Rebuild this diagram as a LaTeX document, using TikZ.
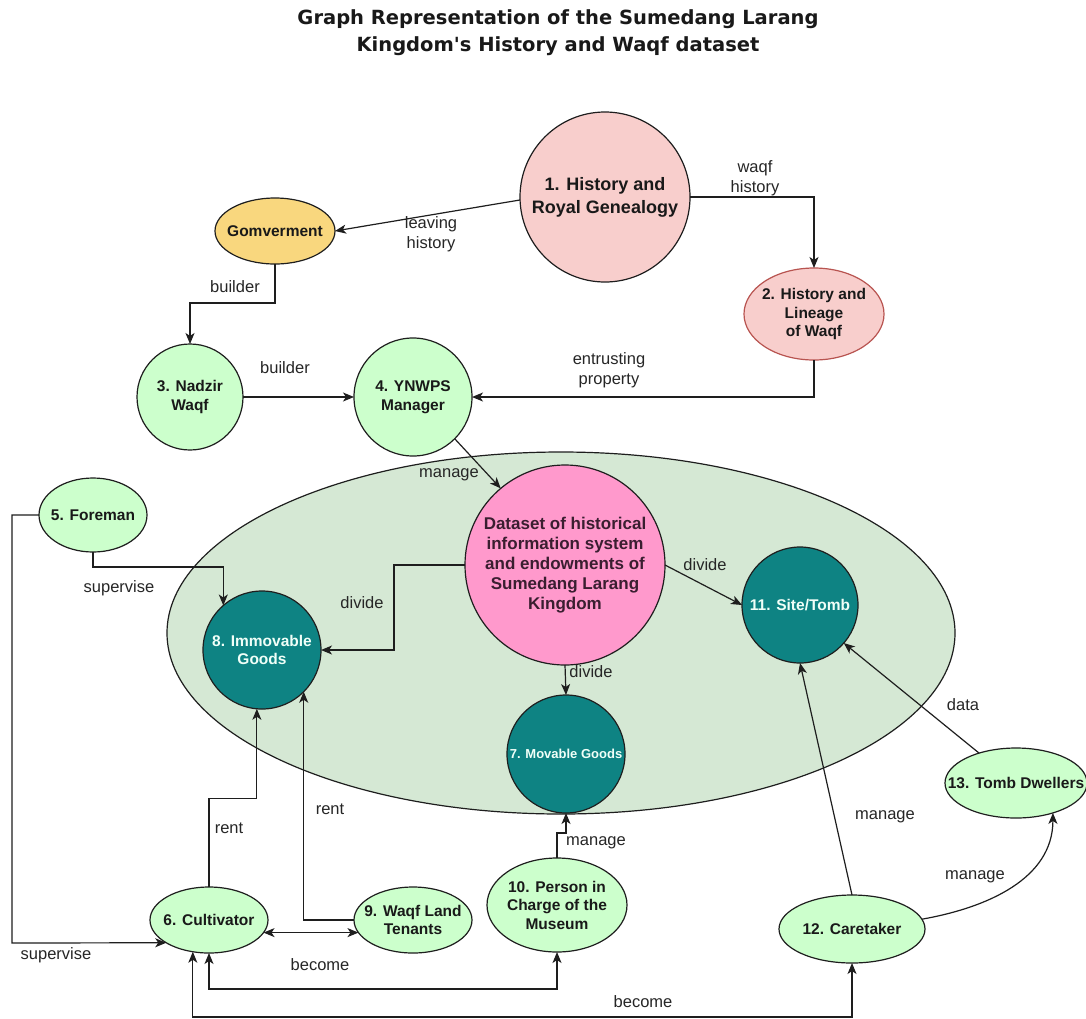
\documentclass[tikz,border=0pt]{standalone}
\usepackage{fontspec}
\setmainfont{Liberation Sans}
\newfontfamily\titlefont{DejaVu Sans}
\usetikzlibrary{shapes.geometric,arrows.meta,calc}

\definecolor{pinkfill}{HTML}{F8CECC}
\definecolor{pinkedge}{HTML}{B85450}
\definecolor{goldfill}{HTML}{F9D77E}
\definecolor{greenfill}{HTML}{CCFFCC}
\definecolor{zonefill}{HTML}{D5E8D4}
\definecolor{dsfill}{HTML}{FF99CC}
\definecolor{dstext}{HTML}{3A1E30}
\definecolor{tealfill}{HTML}{0E8383}
\definecolor{tealtext}{HTML}{F0FFF8}
\definecolor{edgecol}{HTML}{1E1E1E}
\definecolor{labelcol}{HTML}{262626}

\begin{document}
\begin{tikzpicture}[x=1pt,y=-1pt,
  >={Stealth[length=11pt,width=9pt,inset=3pt]},
  every node/.style={inner sep=0pt, outer sep=0pt},
  base/.style={draw=edgecol, line width=1.2pt, align=center, text=black!90,
    font=\bfseries\fontsize{15.5}{18.5}\selectfont},
  ell/.style={ellipse, inner xsep=-30pt, inner ysep=-12pt},
  greencirc/.style={base, circle, fill=greenfill},
  greenell/.style={base, ell, fill=greenfill},
  tealcirc/.style={base, circle, fill=tealfill, text=tealtext},
  lbl/.style={text=labelcol, align=center, font=\fontsize{16.5}{19.5}\selectfont},
  link/.style={draw=edgecol, line width=1.2pt, ->},
  twoway/.style={draw=edgecol, line width=1.2pt, <->},
]
\useasboundingbox[fill=white] (0,0) rectangle (1086,1018);

% title
\node[align=center, text=black!90, font=\titlefont\bfseries\fontsize{19.5}{27}\selectfont]
  (title) at (558,33) {Graph Representation of the Sumedang Larang\\Kingdom\textquotesingle s History and Waqf dataset};

% dataset region
\node[ellipse, draw=edgecol, line width=1.2pt, fill=zonefill,
  minimum width=788pt, minimum height=362pt] (zone) at (561,633) {};

% nodes
\node[base, circle, fill=pinkfill, minimum size=170pt,
  font=\bfseries\fontsize{18}{23}\selectfont] (n1) at (605,197) {1. History and\\Royal Genealogy};
\node[base, ell, fill=goldfill, minimum width=120pt, minimum height=66pt] (gov) at (275,231) {Gomverment};
\node[base, ell, fill=pinkfill, draw=pinkedge, minimum width=140pt, minimum height=92pt] (n2) at (814,314) {2. History and\\Lineage\\of Waqf};
\node[greencirc, minimum size=106pt] (n3) at (190,397) {3. Nadzir\\Waqf};
\node[greencirc, minimum size=118pt] (n4) at (413,397) {4. YNWPS\\Manager};
\node[base, circle, fill=dsfill, minimum size=200pt, text=dstext,
  font=\bfseries\fontsize{17}{20}\selectfont] (ds) at (565,565)
  {Dataset of historical\\information system\\and endowments of\\Sumedang Larang\\Kingdom};
\node[greenell, minimum width=108pt, minimum height=74pt] (n5) at (93,515) {5. Foreman};
\node[tealcirc, minimum size=118pt] (n8) at (262,650) {8. Immovable\\Goods};
\node[tealcirc, minimum size=116pt] (n11) at (800,605) {11. Site/Tomb};
\node[tealcirc, minimum size=118pt, font=\bfseries\fontsize{13}{15}\selectfont] (n7) at (566,754) {7. Movable Goods};
\node[greenell, minimum width=118pt, minimum height=66pt] (n6) at (209,920) {6. Cultivator};
\node[greenell, minimum width=118pt, minimum height=66pt] (n9) at (413,920) {9. Waqf Land\\Tenants};
\node[greenell, minimum width=140pt, minimum height=94pt] (n10) at (557,905) {10. Person in\\Charge of the\\Museum};
\node[greenell, minimum width=146pt, minimum height=68pt] (n12) at (852,929) {12. Caretaker};
\node[greenell, minimum width=142pt, minimum height=70pt] (n13) at (1016,783) {13. Tomb Dwellers};

% connectors
\draw[link] (n1.182) -- (gov.east);
\node[lbl] (l1) at (431,234) {leaving\\history};
\draw[link] (n1.east) -| (n2.north);
\node[lbl] (l2) at (755,178) {waqf\\history};
\draw[link] (n2.south) |- (n4.east);
\node[lbl] (l3) at (609,370) {entrusting\\property};
\draw[link] (gov.south) -- ++(0,39) -| (n3.north);
\node[lbl] (l4) at (235,287) {builder};
\draw[link] (n3.east) -- (n4.west);
\node[lbl] (l5) at (285,368) {builder};
\draw[link] (n4.-45) -- (ds.130);
\node[lbl] (l6) at (449,475) {manage};
\draw[link] (ds.west) -- ++(-71,0) |- (n8.east);
\node[lbl] (l7) at (362,603) {divide};
\draw[link] (ds.east) -- (n11.west);
\node[lbl] (l8) at (705,565) {divide};
\draw[link] (ds.south) -- (n7.north);
\node[lbl] (l9) at (591,672) {divide};
\draw[link] (n5.south) -- ++(0,15) -| (n8.131);
\node[lbl] (l10) at (119,588) {supervise};
\coordinate (supL) at (12,943);
\draw[link] (n5.west) -| (supL) -- (n6.208);
\node[lbl] (l11) at (56,955) {supervise};
\draw[link] (n6.north) |- ($(n8.265)+(0,90)$) -- (n8.265);
\node[lbl] (l12) at (229,828) {rent};
\draw[link] (n9.west) -| (n8.-45);
\node[lbl] (l13) at (330,809) {rent};
\draw[twoway] (n6.-13.5) -- (n9.193.5);
\draw[link] (n10.north) -- ++(0,-25) -| (n7.south);
\node[lbl] (l14) at (596,843) {manage};
\coordinate (becA) at (400,989);
\draw[twoway] (n6.south) |- (becA) -| (n10.south);
\node[lbl] (l15) at (320,965) {become};
\coordinate (becB) at (500,1017);
\draw[twoway] (n6.243) |- (becB) -| (n12.south);
\node[lbl] (l16) at (643,1002) {become};
\draw[link] (n12.north) -- (n11.south);
\node[lbl] (l17) at (885,817) {manage};
\draw[link] (n13.141.5) -- (n11.-41);
\node[lbl] (l18) at (963,705) {data};
\draw[link] (n12.8) to[out=10, in=-90] (n13.-39);
\node[lbl] (l19) at (975,877) {manage};
\end{tikzpicture}
\end{document}
